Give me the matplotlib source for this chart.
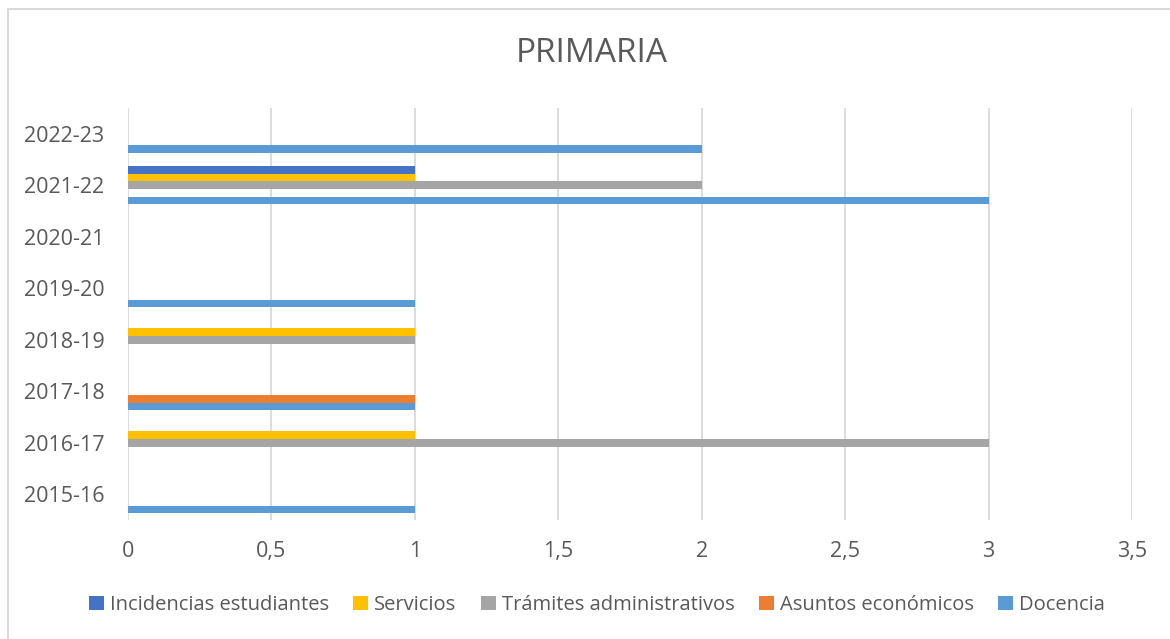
import numpy as np
import matplotlib
matplotlib.use("Agg")
import matplotlib.pyplot as plt
from matplotlib.patches import Rectangle

plt.rcParams['font.family'] = ['Open Sans', 'DejaVu Sans']

years = ["2015-16", "2016-17", "2017-18", "2018-19", "2019-20", "2020-21", "2021-22", "2022-23"]

# series in Excel order (first one drawn at the bottom of each group)
docencia = [1, 0, 1, 0, 1, 0, 3, 2]
asuntos = [0, 0, 1, 0, 0, 0, 0, 0]
tramites = [0, 3, 0, 1, 0, 0, 2, 0]
servicios = [0, 1, 0, 1, 0, 0, 1, 0]
incidencias = [0, 0, 0, 0, 0, 0, 1, 0]

series = [
    ("Docencia", docencia, "#5B9BD5"),
    ("Asuntos económicos", asuntos, "#ED7D31"),
    ("Trámites administrativos", tramites, "#A5A5A5"),
    ("Servicios", servicios, "#FFC000"),
    ("Incidencias estudiantes", incidencias, "#4472C4"),
]
xticks = [0, 0.5, 1, 1.5, 2, 2.5, 3, 3.5]

W, H = 1170, 639
fig = plt.figure(figsize=(W / 100, H / 100), dpi=100)
txt = "#595959"

# chart border (only top/left visible in the crop)
fig.patches.append(Rectangle((8 / W, -0.1), 1.2, 1 - 9 / H + 0.1, transform=fig.transFigure,
                             fill=False, edgecolor="#D9D9D9", linewidth=1.5))

ax = fig.add_axes([128 / W, 1 - 520 / H, (1132 - 128) / W, (520 - 108) / H])

y = np.arange(len(years))
h = 0.146
handles = []
for i, (name, vals, col) in enumerate(series):
    b = ax.barh(y + (i - 2) * h, vals, height=h, color=col, label=name, zorder=3)
    handles.append(b)

ax.set_xlim(0, 3.5)
ax.set_ylim(-0.5, len(years) - 0.5)
ax.set_xticks(xticks)
ax.set_xticklabels([("%g" % v).replace(".", ",") for v in xticks])
ax.set_yticks(y)
ax.set_yticklabels(years)
ax.tick_params(axis="both", length=0, labelsize=15.5, colors=txt)
ax.tick_params(axis="x", pad=15)
ax.tick_params(axis="y", pad=17)
ax.grid(axis="x", color="#D9D9D9", linewidth=1.3, zorder=0)
ax.grid(axis="y", visible=False)
for s in ax.spines.values():
    s.set_visible(False)

fig.text(592 / W, 1 - 54 / H, "PRIMARIA", ha="center", va="center", fontsize=24, color=txt)

leg = fig.legend(handles[::-1], [s[0] for s in series][::-1], loc="center",
                 bbox_to_anchor=(597 / W, 1 - 605 / H), ncol=5, frameon=False,
                 fontsize=14.5, handlelength=0.75, handleheight=0.75, handletextpad=0.3,
                 columnspacing=1.2, labelcolor=txt)

fig.savefig("out.png", dpi=100)
